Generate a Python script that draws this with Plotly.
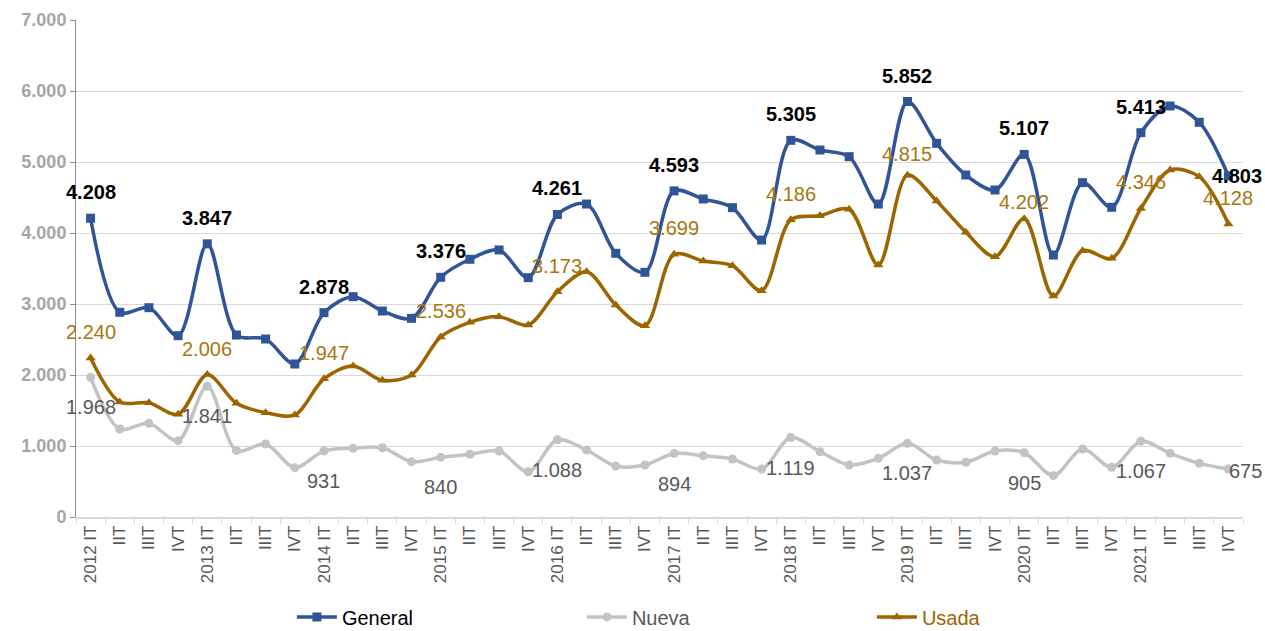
import plotly.graph_objects as go

years = list(range(2012, 2022))
quarters = ["IT", "IIT", "IIIT", "IVT"]
tick_labels = []
for y in years:
    for qi, q in enumerate(quarters):
        tick_labels.append(f"{y} {q}" if qi == 0 else q)

general = [4208, 2883, 2948, 2554, 3847, 2563, 2507, 2155,
           2878, 3103, 2901, 2798, 3376, 3630, 3761, 3371,
           4261, 4408, 3714, 3446, 4593, 4479, 4357, 3901,
           5305, 5169, 5075, 4408, 5852, 5263, 4817, 4606,
           5107, 3690, 4709, 4362, 5413, 5789, 5559, 4803]
nueva = [1968, 1239, 1319, 1075, 1841, 934, 1028, 695,
         931, 967, 975, 779, 840, 883, 930, 638,
         1088, 944, 718, 732, 894, 864, 817, 676,
         1119, 920, 732, 826, 1037, 803, 770, 930,
         905, 582, 958, 700, 1067, 897, 756, 675]
usada = [2240, 1620, 1610, 1446, 2006, 1601, 1470, 1437,
         1947, 2127, 1925, 2000, 2536, 2742, 2822, 2704,
         3173, 3455, 2986, 2695, 3699, 3606, 3540, 3188,
         4186, 4244, 4334, 3549, 4815, 4451, 4010, 3667,
         4202, 3113, 3751, 3643, 4346, 4887, 4793, 4128]

label_idx = [0, 4, 8, 12, 16, 20, 24, 28, 32, 36, 39]

C_GEN = "#2F5597"
C_NUE = "#C3C3C3"
C_USA = "#9C6500"
C_USA_TXT = "#A8760E"
C_GRAY_TXT = "#595959"
FONT = "Liberation Sans, Arial"

x = list(range(len(tick_labels)))

fig = go.Figure()
fig.add_trace(go.Scatter(
    x=x, y=general, name="General", mode="lines+markers",
    line=dict(color=C_GEN, width=3.5, shape="spline", smoothing=0.9),
    marker=dict(symbol="square", size=9, color=C_GEN)))
fig.add_trace(go.Scatter(
    x=x, y=nueva, name=f"<span style='color:{C_GRAY_TXT}'>Nueva</span>", mode="lines+markers",
    line=dict(color=C_NUE, width=3.5, shape="spline", smoothing=0.9),
    marker=dict(symbol="circle", size=9, color=C_NUE)))
fig.add_trace(go.Scatter(
    x=x, y=usada, name=f"<span style='color:{C_USA}'>Usada</span>", mode="lines+markers",
    line=dict(color=C_USA, width=3.5, shape="spline", smoothing=0.9),
    marker=dict(symbol="triangle-up", size=9, color=C_USA)))


def fmt(v):
    return f"{v:,}".replace(",", ".")


annotations = []
for i in label_idx:
    last = i == len(x) - 1
    annotations.append(dict(
        x=i, y=general[i], text=f"<b>{fmt(general[i])}</b>", showarrow=False,
        xshift=9 if last else 0, yshift=0 if last else 26,
        font=dict(family=FONT, size=20, color="#000000")))
    ys = 26
    if i == 28:
        ys = 21
    if i == 32:
        ys = 17
    annotations.append(dict(
        x=i, y=usada[i], text=fmt(usada[i]), showarrow=False,
        xshift=0, yshift=ys,
        font=dict(family=FONT, size=20, color=C_USA_TXT)))
    annotations.append(dict(
        x=i, y=nueva[i], text=fmt(nueva[i]), showarrow=False,
        xshift=17 if last else 0, yshift=-2 if last else -30,
        font=dict(family=FONT, size=20, color=C_GRAY_TXT)))

fig.update_layout(
    width=1265, height=631,
    margin=dict(l=76, r=22, t=20, b=114, autoexpand=False),
    paper_bgcolor="white", plot_bgcolor="white",
    separators=",.",
    font=dict(family=FONT, size=17, color=C_GRAY_TXT),
    showlegend=True,
    legend=dict(orientation="h", x=0.185, xanchor="left", y=-0.201, yanchor="middle",
                font=dict(size=20, color="#000000"), entrywidth=235,
                itemwidth=40),
    annotations=annotations,
)
fig.update_xaxes(
    range=[-0.5, len(x) - 0.5], automargin=False,
    tickmode="array", tickvals=x, ticktext=tick_labels,
    tickangle=-90, ticks="", showgrid=False,
    showline=True, linecolor="#D9D9D9", linewidth=1.5,
    tickfont=dict(size=17, color=C_GRAY_TXT),
    minor=dict(tickvals=[i + 0.5 for i in range(-1, len(x))], ticks="outside",
               ticklen=5, tickcolor="#D9D9D9", showgrid=False),
    zeroline=False,
)
fig.update_yaxes(
    range=[0, 7000], dtick=1000, tickformat=",d", automargin=False,
    showgrid=True, gridcolor="#D9D9D9", gridwidth=1,
    showline=True, linecolor="#8C8C8C", linewidth=1,
    ticks="outside", ticklen=5, tickcolor="#8C8C8C",
    tickfont=dict(size=18, color="#A6A6A6", family=FONT),
    tickprefix="<b>", ticksuffix="</b>",
    zeroline=False,
)

fig.write_html("out.html")
